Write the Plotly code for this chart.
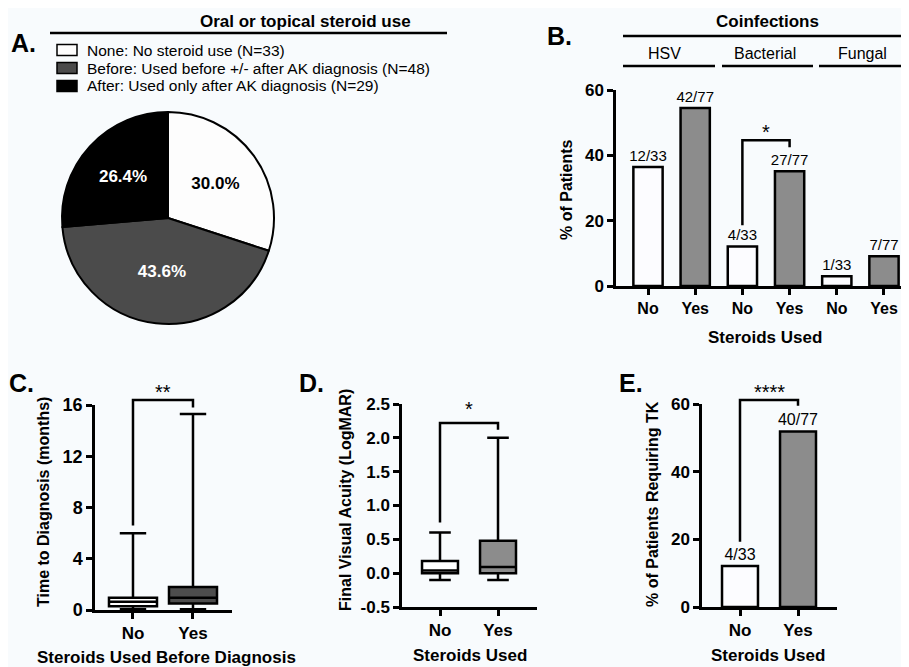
import plotly.graph_objects as go

# The page body adds an 8px margin, so the figure is sized to fit the window exactly
OFF = 8
W, H = 909 - OFF, 667 - OFF
FONT = "Arial, Liberation Sans, Helvetica, sans-serif"
BG = "#f8fbfd"

def fx(p):
    return (p - OFF) / W

def fy(p):
    return 1 - (p - OFF) / H

# ---------------- Data ----------------
# Panel A
pie_title = "Oral or topical steroid use"
pie_labels = ["None: No steroid use (N=33)",
              "Before: Used before +/- after AK diagnosis (N=48)",
              "After: Used only after AK diagnosis (N=29)"]
pie_counts = [33, 48, 29]
pie_colors = ["#fdfdfd", "#4b4b4b", "#000000"]
pie_text_colors = ["#000000", "#ffffff", "#ffffff"]

# Panel B
coinf_title = "Coinfections"
coinf_groups = ["HSV", "Bacterial", "Fungal"]
coinf_cats = ["No", "Yes", "No", "Yes", "No", "Yes"]
coinf_pct = [36.4, 54.5, 12.1, 35.1, 3.0, 9.1]
coinf_labels = ["12/33", "42/77", "4/33", "27/77", "1/33", "7/77"]
coinf_colors = ["#fcfcff", "#8c8c8c", "#fcfcff", "#8c8c8c", "#fcfcff", "#8c8c8c"]
b_ticks = [0, 20, 40, 60]
b_bracket_x = [2, 2, 3, 3]
b_bracket_y = [18.6, 44.6, 44.6, 42.5]
b_star = "*"

# Panel C
c_cats = ["No", "Yes"]
c_low = [0.05, 0.05]
c_q1 = [0.3, 0.5]
c_med = [0.65, 0.95]
c_q3 = [0.95, 1.8]
c_high = [6.0, 15.3]
c_fill = ["#ffffff", "#4d4d4d"]
c_ticks = [0, 4, 8, 12, 16]
c_bracket_x = [0, 0, 1, 1]
c_bracket_y = [6.6, 16.4, 16.4, 15.8]
c_star = "**"

# Panel D
d_cats = ["No", "Yes"]
d_low = [-0.1, -0.1]
d_q1 = [0.0, 0.0]
d_med = [0.04, 0.09]
d_q3 = [0.18, 0.48]
d_high = [0.6, 2.0]
d_fill = ["#ffffff", "#8c8c8c"]
d_ticks = [-0.5, 0.0, 0.5, 1.0, 1.5, 2.0, 2.5]
d_bracket_x = [0, 0, 1, 1]
d_bracket_y = [0.75, 2.22, 2.22, 2.12]
d_star = "*"

# Panel E
e_cats = ["No", "Yes"]
e_pct = [12.1, 51.9]
e_labels = ["4/33", "40/77"]
e_colors = ["#fcfcff", "#8c8c8c"]
e_ticks = [0, 20, 40, 60]
e_bracket_x = [0, 0, 1, 1]
e_bracket_y = [19.3, 61.2, 61.2, 59.5]
e_star = "****"

# ---------------- Figure ----------------
fig = go.Figure()

# Panel A pie
fig.add_trace(go.Pie(
    labels=pie_labels, values=pie_counts, sort=False, direction="clockwise", rotation=0,
    marker=dict(colors=pie_colors, line=dict(color="black", width=2)),
    texttemplate="%{percent:.1%}", textposition="inside", insidetextorientation="horizontal",
    textfont=dict(family=FONT, size=17, color=pie_text_colors, weight="bold"),
    domain=dict(x=[fx(62), fx(274)], y=[fy(324), fy(112)]),
    hoverinfo="skip", showlegend=False))

# Panel B bars
fig.add_trace(go.Bar(
    x=list(range(len(coinf_cats))), y=coinf_pct, width=0.62,
    marker=dict(color=coinf_colors, line=dict(color="black", width=2.5)),
    text=coinf_labels, textposition="outside", constraintext="none",
    textfont=dict(family=FONT, size=15, color="black"), cliponaxis=False,
    xaxis="x", yaxis="y", showlegend=False, hoverinfo="skip"))
fig.add_trace(go.Scatter(x=b_bracket_x, y=b_bracket_y, mode="lines",
                         line=dict(color="black", width=2.5), xaxis="x", yaxis="y",
                         showlegend=False, hoverinfo="skip"))

# Panel C boxes
for i in range(len(c_cats)):
    fig.add_trace(go.Box(
        x=[i], q1=[c_q1[i]], median=[c_med[i]], q3=[c_q3[i]],
        lowerfence=[c_low[i]], upperfence=[c_high[i]], width=0.8, whiskerwidth=0.55,
        fillcolor=c_fill[i], line=dict(color="black", width=2.5), boxpoints=False,
        xaxis="x2", yaxis="y2", showlegend=False, hoverinfo="skip"))
fig.add_trace(go.Scatter(x=c_bracket_x, y=c_bracket_y, mode="lines",
                         line=dict(color="black", width=2.5), xaxis="x2", yaxis="y5",
                         showlegend=False, hoverinfo="skip"))

# Panel D boxes
for i in range(len(d_cats)):
    fig.add_trace(go.Box(
        x=[i], q1=[d_q1[i]], median=[d_med[i]], q3=[d_q3[i]],
        lowerfence=[d_low[i]], upperfence=[d_high[i]], width=0.62, whiskerwidth=0.6,
        fillcolor=d_fill[i], line=dict(color="black", width=2.5), boxpoints=False,
        xaxis="x3", yaxis="y3", showlegend=False, hoverinfo="skip"))
fig.add_trace(go.Scatter(x=d_bracket_x, y=d_bracket_y, mode="lines",
                         line=dict(color="black", width=2.5), xaxis="x3", yaxis="y3",
                         showlegend=False, hoverinfo="skip"))

# Panel E bars
fig.add_trace(go.Bar(
    x=list(range(len(e_cats))), y=e_pct, width=0.62,
    marker=dict(color=e_colors, line=dict(color="black", width=2.5)),
    text=e_labels, textposition="outside", constraintext="none",
    textfont=dict(family=FONT, size=16, color="black"), cliponaxis=False,
    xaxis="x4", yaxis="y4", showlegend=False, hoverinfo="skip"))
fig.add_trace(go.Scatter(x=e_bracket_x, y=e_bracket_y, mode="lines",
                         line=dict(color="black", width=2.5), xaxis="x4", yaxis="y6",
                         showlegend=False, hoverinfo="skip"))

# ---------------- Axes ----------------
def yax(domain_px, rng, ticks, anchor, size=17, fmt=None):
    ticktext = [(fmt.format(t) if fmt else str(t)) for t in ticks]
    return dict(domain=[fy(domain_px[0]), fy(domain_px[1])], range=rng, anchor=anchor,
                showline=True, linewidth=2.5, linecolor="black", ticks="outside",
                ticklen=6, tickwidth=2.5, tickcolor="black", showgrid=False, zeroline=False,
                tickvals=ticks, ticktext=ticktext, automargin=False, fixedrange=True,
                tickfont=dict(family=FONT, size=size, color="black", weight="bold"))

def xax(domain_px, rng, cats, anchor, size=17):
    return dict(domain=[fx(domain_px[0]), fx(domain_px[1])], range=rng, anchor=anchor,
                showline=True, linewidth=2.5, linecolor="black", ticks="outside",
                ticklen=6, tickwidth=2.5, tickcolor="black", showgrid=False, zeroline=False,
                tickvals=list(range(len(cats))), ticktext=cats, automargin=False, fixedrange=True,
                tickfont=dict(family=FONT, size=size, color="black", weight="bold"))

def overlay(base_px, top_px, top_val, anchor, extend_px):
    scale = top_val / (base_px - top_px)
    return dict(domain=[fy(base_px), fy(extend_px)], range=[0, scale * (base_px - extend_px)],
                anchor=anchor, visible=False, showgrid=False, zeroline=False, automargin=False)

layout = dict(
    width=W, height=H, autosize=False, margin=dict(l=0, r=0, t=0, b=0, pad=0, autoexpand=False),
    paper_bgcolor=BG, plot_bgcolor="rgba(0,0,0,0)", boxmode="overlay", barmode="overlay",
    font=dict(family=FONT, color="black"), showlegend=False,
    xaxis=xax((616, 909), [-0.678, 5.53], coinf_cats, "y", 16),
    yaxis=yax((286, 90), [0, 60], b_ticks, "x", 17),
    xaxis2=xax((95, 232), [-0.633, 1.65], c_cats, "y2", 17),
    yaxis2=yax((610, 405), [0, 16], c_ticks, "x2", 18),
    xaxis3=xax((402, 537), [-0.655, 1.672], d_cats, "y3", 17),
    yaxis3=yax((607, 404), [-0.5, 2.5], d_ticks, "x3", 17, "{:.1f}"),
    xaxis4=xax((702, 837), [-0.655, 1.672], e_cats, "y4", 17),
    yaxis4=yax((607, 404), [0, 60], e_ticks, "x4", 17),
    yaxis5=overlay(610, 405, 16, "x2", 375),
    yaxis6=overlay(607, 404, 60, "x4", 375),
)
fig.update_layout(**layout)

# ---------------- Decorations ----------------
line_style = dict(color="black", width=2.5)
shapes = [
    dict(type="line", xref="paper", yref="paper", x0=fx(50), x1=fx(447), y0=fy(33), y1=fy(33), line=line_style),
    dict(type="line", xref="paper", yref="paper", x0=fx(623), x1=fx(909), y0=fy(36), y1=fy(36), line=line_style),
    dict(type="line", xref="paper", yref="paper", x0=fx(623), x1=fx(715), y0=fy(66), y1=fy(66), line=line_style),
    dict(type="line", xref="paper", yref="paper", x0=fx(722), x1=fx(813), y0=fy(66), y1=fy(66), line=line_style),
    dict(type="line", xref="paper", yref="paper", x0=fx(819), x1=fx(909), y0=fy(66), y1=fy(66), line=line_style),
]

def ann(text, x, y, size, bold=True, angle=0, xref="paper", yref="paper", xanchor="center",
        yanchor="middle", yshift=0, color="black"):
    return dict(text=text, x=x, y=y, xref=xref, yref=yref, showarrow=False, textangle=angle,
                xanchor=xanchor, yanchor=yanchor, yshift=yshift, borderpad=0,
                font=dict(family=FONT, size=size, color=color, weight="bold" if bold else "normal"))

annotations = []
# Custom legend for the pie (swatches + pie labels)
legend_rows_y = [50, 68, 86]
for lab, col, ry in zip(pie_labels, pie_colors, legend_rows_y):
    shapes.append(dict(type="rect", xref="paper", yref="paper", x0=fx(57), x1=fx(77),
                       y0=fy(ry + 5.5), y1=fy(ry - 5.5), fillcolor=col,
                       line=dict(color="black", width=1.5)))
    annotations.append(ann(lab, fx(86), fy(ry), 15.5, bold=False, xanchor="left"))
fig.update_layout(shapes=shapes)

group_centers = [664, 765, 862]
annotations += [
    ann("A.", fx(10), fy(43), 25, xanchor="left"),
    ann(pie_title, fx(305), fy(22), 17),
    ann("B.", fx(546), fy(36), 25, xanchor="left"),
    ann(coinf_title, fx(767), fy(22), 17),
    ann("% of Patients", fx(566), fy(190), 16, angle=-90),
    ann("Steroids Used", fx(765), fy(337), 17),
    ann(b_star, 2.5, b_bracket_y[1], 20, bold=False, xref="x", yref="y", yanchor="bottom", yshift=-4),
    ann("C.", fx(8), fy(383), 25, xanchor="left"),
    ann("Time to Diagnosis (months)", fx(44), fy(502), 16, angle=-90),
    ann("Steroids Used Before Diagnosis", fx(166), fy(657), 17),
    ann(c_star, 0.5, c_bracket_y[1], 20, bold=False, xref="x2", yref="y5", yanchor="bottom", yshift=-4),
    ann("D.", fx(298), fy(383), 25, xanchor="left"),
    ann("Final Visual Acuity (LogMAR)", fx(346), fy(500), 16, angle=-90),
    ann("Steroids Used", fx(470), fy(655), 17),
    ann(d_star, 0.5, d_bracket_y[1], 20, bold=False, xref="x3", yref="y3", yanchor="bottom", yshift=2),
    ann("E.", fx(618), fy(383), 25, xanchor="left"),
    ann("% of Patients Requiring TK", fx(652), fy(504), 16, angle=-90),
    ann("Steroids Used", fx(768), fy(655), 17),
    ann(e_star, 0.5, e_bracket_y[1], 20, bold=False, xref="x4", yref="y6", yanchor="bottom", yshift=-4),
]
for g, cx in zip(coinf_groups, group_centers):
    annotations.append(ann(g, fx(cx), fy(53), 16, bold=False))
fig.update_layout(annotations=annotations)

fig.write_html("out.html")
